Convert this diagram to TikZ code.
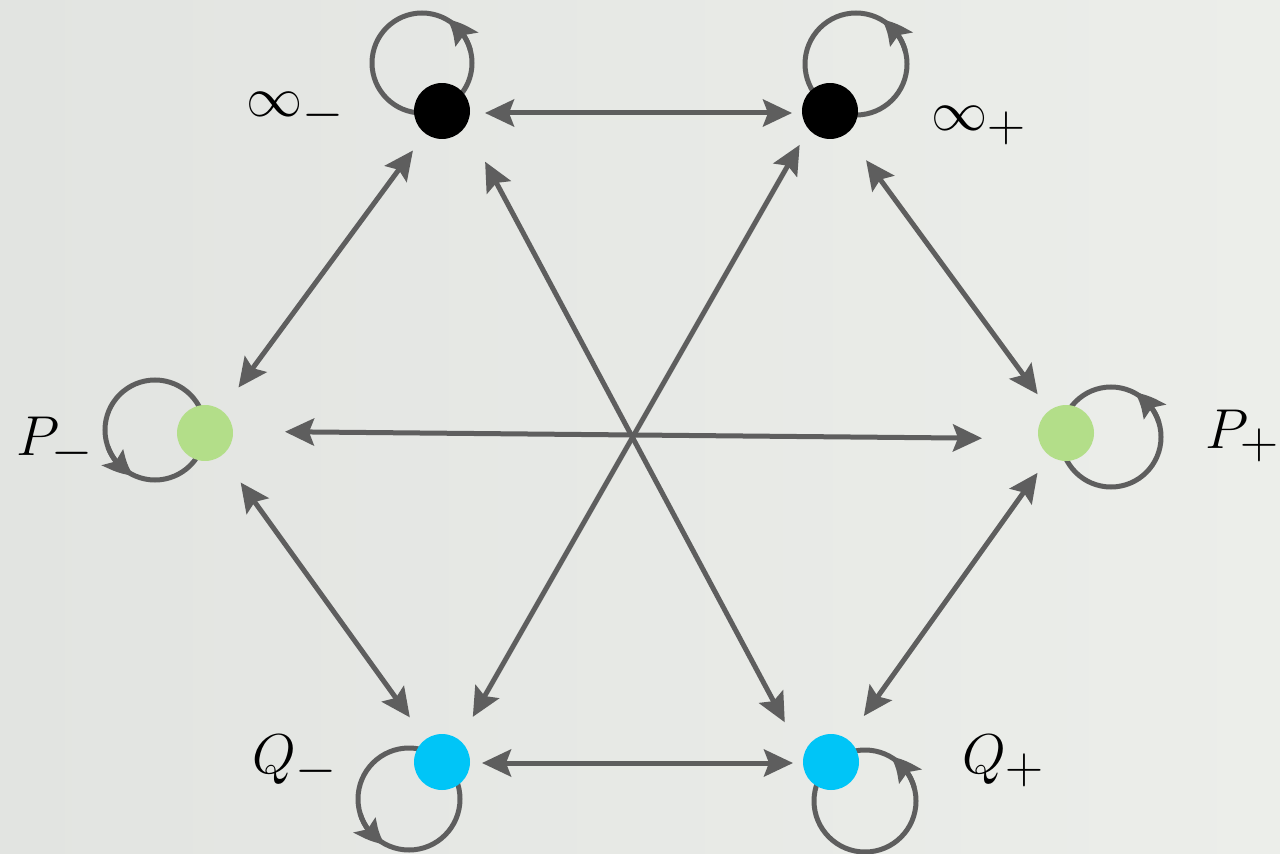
\RequirePackage{fix-cm}
\documentclass[tikz,border=0pt]{standalone}
\usetikzlibrary{arrows.meta,bending,calc}
\definecolor{bgl}{RGB}{226,228,225}
\definecolor{bgr}{RGB}{236,238,234}
\definecolor{linec}{RGB}{94,94,94}
\definecolor{greenc}{RGB}{179,222,137}
\definecolor{cyanc}{RGB}{0,197,247}
\DeclareMathSizes{32}{32}{30}{20}
\pgfdeclarelayer{bg}
\pgfsetlayers{bg,main}
\begin{document}
\begin{tikzpicture}[x=0.02cm,y=0.02cm,
  tip/.tip={Stealth[length=0.58cm,width=0.54cm,inset=0.1cm]},
  conn/.style={draw=linec, line width=0.1cm, tip-tip},
  loopc/.style={draw=linec, line width=0.1cm},
  looparr/.style={draw=linec, line width=0.1cm, -{Stealth[length=0.56cm,width=0.52cm,inset=0.1cm,bend]}},
  dot/.style={circle, minimum size=1.12cm, inner sep=0pt, fill=#1},
  lab/.style={anchor=base west, inner sep=0pt, font=\fontsize{32}{38}\selectfont}
]
\useasboundingbox (0,0) rectangle (1280,853);
% nodes
\node[dot=black]  (im) at (442,742) {};
\node[dot=black]  (ip) at (830,742) {};
\node[dot=greenc] (pm) at (205,420) {};
\node[dot=greenc] (pp) at (1066,420) {};
\node[dot=cyanc]  (qm) at (442,91) {};
\node[dot=cyanc]  (qp) at (831,91) {};
% labels
\node[lab] (lim) at (246,736) {$\infty_-$};
\node[lab] (lip) at (931,722) {$\infty_+$};
\node[lab] (lpm) at (16,398) {$P_-$};
\node[lab] (lpp) at (1205,405) {$P_+$};
\node[lab] (lqm) at (252,80) {$Q_-$};
\node[lab] (lqp) at (962,80) {$Q_+$};
\begin{pgfonlayer}{bg}
  \shade[left color=bgl, right color=bgr] (0,0) rectangle (1280,853);
  % loops
  \draw[loopc] ($(im)+(-20,48)$) circle[radius=50];
  \draw[looparr] ($(im)+(-20,48)+(15:50)$) arc[start angle=15, end angle=60, radius=50];
  \draw[loopc] ($(ip)+(26,47)$) circle[radius=51];
  \draw[looparr] ($(ip)+(26,47)+(15:51)$) arc[start angle=15, end angle=60, radius=51];
  \draw[loopc] ($(pm)+(-50,3)$) circle[radius=50];
  \draw[looparr] ($(pm)+(-50,3)+(200:50)$) arc[start angle=200, end angle=245, radius=50];
  \draw[loopc] ($(pp)+(45,-4)$) circle[radius=50];
  \draw[looparr] ($(pp)+(45,-4)+(17:50)$) arc[start angle=17, end angle=62, radius=50];
  \draw[loopc] ($(qm)+(-33,-37)$) circle[radius=51];
  \draw[looparr] ($(qm)+(-33,-37)+(197:51)$) arc[start angle=197, end angle=242, radius=51];
  \draw[loopc] ($(qp)+(34,-39)$) circle[radius=51];
  \draw[looparr] ($(qp)+(34,-39)+(15:51)$) arc[start angle=15, end angle=60, radius=51];
\end{pgfonlayer}
% connectors
\draw[conn, shorten <=0.86cm, shorten >=0.76cm] ($(im)+(0,-2)$) -- ($(ip)+(0,-2)$);
\draw[conn, shorten <=0.98cm, shorten >=1.13cm] (im.center) -- (pm.center);
\draw[conn, shorten <=1.15cm, shorten >=0.90cm] ($(im)+(16,0)$) -- ($(qp)+(-25,0)$);
\draw[conn, shorten <=0.78cm, shorten >=1.04cm] ($(ip)+(-11,0)$) -- ($(qm)+(5,0)$);
\draw[conn, shorten <=1.22cm, shorten >=0.96cm] (ip.center) -- (pp.center);
\draw[conn, shorten <=1.60cm, shorten >=1.68cm] ($(pm)+(0,2)$) -- ($(pp)+(0,-6)$);
\draw[conn, shorten <=1.22cm, shorten >=1.10cm] (pm.center) -- (qm.center);
\draw[conn, shorten <=0.98cm, shorten >=1.13cm] (pp.center) -- (qp.center);
\draw[conn, shorten <=0.80cm, shorten >=0.76cm] ($(qm)+(0,-1)$) -- ($(qp)+(0,-1)$);
\end{tikzpicture}
\end{document}
